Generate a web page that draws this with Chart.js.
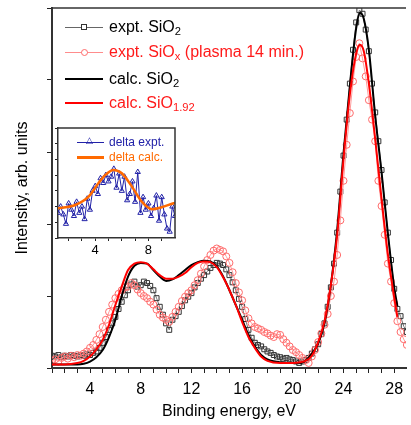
<!DOCTYPE html>
<html>
<head>
<meta charset="utf-8">
<script src="https://cdn.jsdelivr.net/npm/chart.js@4/dist/chart.umd.min.js"></script>
<style>
  html, body { margin: 0; padding: 0; background: #fff; }
  #wrap { position: relative; width: 411px; height: 425px; overflow: hidden; }
  #mainChart { position: absolute; left: 0; top: 0; }
  #insetChart { position: absolute; left: 50px; top: 118px; }
  .row { position: absolute; display: flex; align-items: center; height: 20px;
         font-family: 'Liberation Sans', Arial, sans-serif; white-space: nowrap; }
  .main { font-size: 16px; }
  .small { font-size: 12px; }
  .sample { position: relative; display: inline-block; height: 0; }
  .mark { position: absolute; box-sizing: border-box; background: #fff; }
  sub { font-size: 70%; vertical-align: -0.3em; line-height: 0; }
</style>
</head>
<body>
<div id="wrap">
  <canvas id="mainChart" width="411" height="425"></canvas>
  <canvas id="insetChart" width="130" height="142"></canvas>

  <div class="row main" style="left:65px; top:17px; color:#000;">
    <span class="sample" style="width:38px; border-top:1px solid #666;">
      <span class="mark" style="left:16px; top:-3.5px; width:6px; height:6px; border:1px solid #333;"></span>
    </span>
    <span style="margin-left:6px;">expt. SiO<sub>2</sub></span>
  </div>
  <div class="row main" style="left:65px; top:42px; color:#ff1a1a;">
    <span class="sample" style="width:38px; border-top:1px solid #ff8c8c;">
      <span class="mark" style="left:16px; top:-3.5px; width:7px; height:7px; border:1px solid #ff6b6b; border-radius:50%;"></span>
    </span>
    <span style="margin-left:6px;">expt. SiO<sub>x</sub> (plasma 14 min.)</span>
  </div>
  <div class="row main" style="left:65px; top:69px; color:#000;">
    <span class="sample" style="width:38px; border-top:2px solid #000;"></span>
    <span style="margin-left:6px;">calc. SiO<sub>2</sub></span>
  </div>
  <div class="row main" style="left:65px; top:93px; color:#ff1a1a;">
    <span class="sample" style="width:38px; border-top:2px solid #ff0000;"></span>
    <span style="margin-left:6px;">calc. SiO<sub>1.92</sub></span>
  </div>

  <div class="row small" style="left:77px; top:132px; color:#2222a8;">
    <span class="sample" style="width:27px; border-top:1px solid #2222a8;">
      <span style="position:absolute; left:9px; top:-7px; font-size:9px; line-height:9px; color:#2222a8;">&#9651;</span>
    </span>
    <span style="margin-left:5px;">delta expt.</span>
  </div>
  <div class="row small" style="left:77px; top:147px; color:#ff6a00;">
    <span class="sample" style="width:27px; border-top:3px solid #ff6a00;"></span>
    <span style="margin-left:5px;">delta calc.</span>
  </div>
</div>

<script>
// measured spectra, 0.25 eV step
const energyExp = [
  1, 1.25, 1.5, 1.75, 2, 2.25, 2.5, 2.75,
  3, 3.25, 3.5, 3.75, 4, 4.25, 4.5, 4.75,
  5, 5.25, 5.5, 5.75, 6, 6.25, 6.5, 6.75,
  7, 7.25, 7.5, 7.75, 8, 8.25, 8.5, 8.75,
  9, 9.25, 9.5, 9.75, 10, 10.25, 10.5, 10.75,
  11, 11.25, 11.5, 11.75, 12, 12.25, 12.5, 12.75,
  13, 13.25, 13.5, 13.75, 14, 14.25, 14.5, 14.75,
  15, 15.25, 15.5, 15.75, 16, 16.25, 16.5, 16.75,
  17, 17.25, 17.5, 17.75, 18, 18.25, 18.5, 18.75,
  19, 19.25, 19.5, 19.75, 20, 20.25, 20.5, 20.75,
  21, 21.25, 21.5, 21.75, 22, 22.25, 22.5, 22.75,
  23, 23.25, 23.5, 23.75, 24, 24.25, 24.5, 24.75,
  25, 25.25, 25.5, 25.75, 26, 26.25, 26.5, 26.75,
  27, 27.25, 27.5, 27.75, 28, 28.25, 28.5, 28.75,
  29
];
const exptSiO2 = [
  0.17, 0.16, 0.18, 0.15, 0.17, 0.16, 0.18, 0.17,
  0.16, 0.18, 0.17, 0.19, 0.18, 0.21, 0.23, 0.28,
  0.35, 0.43, 0.53, 0.62, 0.71, 0.82, 0.92, 1.01,
  1.08, 1.16, 1.20, 1.13, 1.15, 1.20, 1.18, 1.14,
  1.08, 0.97, 0.85, 0.74, 0.62, 0.53, 0.67, 0.72,
  0.78, 0.86, 0.94, 0.99, 1.04, 1.12, 1.18, 1.24,
  1.29, 1.34, 1.39, 1.43, 1.46, 1.45, 1.43, 1.37,
  1.29, 1.19, 1.08, 0.96, 0.85, 0.68, 0.53, 0.42,
  0.35, 0.32, 0.30, 0.26, 0.23, 0.21, 0.18, 0.16,
  0.15, 0.13, 0.14, 0.12, 0.11, 0.09, 0.07, 0.09,
  0.11, 0.14, 0.20, 0.26, 0.33, 0.47, 0.62, 0.85,
  1.12, 1.45, 1.88, 2.45, 2.95, 3.45, 3.95, 4.42,
  4.80, 4.97, 4.92, 4.70, 4.40, 3.95, 3.55, 3.15,
  2.75, 2.30, 1.88, 1.50, 1.10, 0.82, 0.72, 0.58,
  0.50
];
const exptSiOx = [
  0.10, 0.12, 0.09, 0.14, 0.16, 0.13, 0.17, 0.15,
  0.18, 0.17, 0.20, 0.23, 0.28, 0.32, 0.39, 0.47,
  0.57, 0.67, 0.78, 0.88, 0.97, 1.03, 1.08, 1.12,
  1.13, 1.18, 1.15, 1.09, 1.04, 1.00, 0.97, 0.92,
  0.88, 0.81, 0.74, 0.70, 0.67, 0.64, 0.71, 0.78,
  0.85, 0.93, 0.99, 1.04, 1.08, 1.15, 1.22, 1.31,
  1.41, 1.50, 1.57, 1.63, 1.66, 1.64, 1.62, 1.55,
  1.46, 1.33, 1.18, 1.05, 0.94, 0.80, 0.69, 0.62,
  0.57, 0.55, 0.53, 0.50, 0.48, 0.45, 0.43, 0.47,
  0.46, 0.40, 0.35, 0.30, 0.25, 0.22, 0.18, 0.14,
  0.11, 0.07, 0.16, 0.25, 0.36, 0.48, 0.60, 0.75,
  1.00, 1.20, 1.57, 2.05, 2.60, 3.10, 3.54, 3.98,
  4.32, 4.51, 4.30, 4.05, 3.72, 3.45, 3.15, 2.60,
  2.25, 1.85, 1.45, 1.20, 0.90, 0.65, 0.50, 0.40,
  0.32
];

// calculated curves
const energyCalc = [
  1, 2, 3, 3.5, 4, 4.5, 5, 5.5, 6, 6.5, 7, 7.5, 8, 8.5, 9, 9.5, 10, 10.5,
  11, 11.5, 12, 12.5, 13, 13.5, 14, 14.5, 15, 15.5, 16, 16.5, 17, 17.5, 18,
  19, 20, 20.6, 21, 21.5, 22, 22.5, 23, 23.5, 24, 24.5, 25, 25.3, 25.6, 26,
  26.5, 27, 27.5, 28, 28.25
];
const calcSiO2 = [
  0.05, 0.05, 0.05, 0.06, 0.09, 0.15, 0.25, 0.43, 0.67, 1.00, 1.27, 1.42, 1.46, 1.45, 1.36, 1.27, 1.21, 1.23,
  1.29, 1.36, 1.43, 1.47, 1.49, 1.48, 1.41, 1.27, 1.08, 0.875, 0.67, 0.46, 0.30, 0.18, 0.12,
  0.08, 0.07, 0.07, 0.10, 0.20, 0.34, 0.62, 1.15, 1.92, 2.98, 3.92, 4.72, 4.93, 4.85, 4.42,
  3.50, 2.72, 1.87, 1.12, 0.86
];
const calcSiO192 = [
  0.05, 0.05, 0.07, 0.10, 0.16, 0.26, 0.39, 0.60, 0.875, 1.13, 1.36, 1.45, 1.47, 1.45, 1.37, 1.29, 1.24, 1.24,
  1.27, 1.32, 1.40, 1.46, 1.48, 1.47, 1.40, 1.26, 1.08, 0.875, 0.64, 0.43, 0.28, 0.16, 0.10,
  0.07, 0.07, 0.08, 0.10, 0.17, 0.36, 0.65, 1.15, 1.85, 2.90, 3.80, 4.37, 4.49, 4.40, 3.95,
  3.18, 2.35, 1.58, 0.98, 0.71
];

// inset: difference spectra
const energyDelta = [
  1.2, 1.4, 1.6, 1.8, 2.0, 2.2, 2.4, 2.6, 2.8, 3.0, 3.2, 3.4, 3.6, 3.8, 4.0,
  4.2, 4.4, 4.6, 4.8, 5.0, 5.2, 5.4, 5.6, 5.8, 6.0, 6.2, 6.4, 6.6, 6.8, 7.0,
  7.2, 7.4, 7.6, 7.8, 8.0, 8.2, 8.4, 8.6, 8.8, 9.0, 9.2, 9.4, 9.6, 9.8, 10.0
];
const deltaExpt = [
  1.6, 2.0, 1.5, 0.9, 2.2, 1.8, 1.4, 2.3, 1.6, 2.0, 1.2, 2.5, 1.8, 3.0, 3.3,
  2.8, 3.8, 3.5, 4.0, 3.6, 3.9, 4.4, 3.2, 4.1, 3.0, 3.9, 2.4, 2.8, 3.6, 2.3,
  4.2, 1.6, 2.6, 1.8, 2.2, 1.4, 1.9, 2.7, 1.1, 2.6, 1.5, 0.6, 0.4, 2.0, 1.4
];
const energyDeltaCalc = [1.2, 2.5, 3.5, 4.25, 4.75, 5.37, 6.0, 6.76, 7.5, 8.27, 9.0, 9.9, 10];
const deltaCalc = [1.89, 2.1, 2.63, 3.5, 4.0, 4.33, 4.12, 3.27, 2.31, 1.83, 1.96, 2.21, 2.23];

const FONT = "'Liberation Sans', Arial, sans-serif";

function pts(xs, ys) {
  return xs.map((x, i) => ({ x: x, y: ys[i] }));
}

function range(a, b) {
  const out = [];
  for (let v = a; v <= b; v++) out.push({ value: v });
  return out;
}

const boxPlugin = {
  id: 'box',
  beforeDraw(chart, args, opts) {
    if (!opts.fill) return;
    const a = chart.chartArea;
    chart.ctx.save();
    chart.ctx.fillStyle = '#fff';
    chart.ctx.fillRect(a.left, a.top, a.right - a.left, a.bottom - a.top);
    chart.ctx.restore();
  },
  afterDraw(chart, args, opts) {
    const a = chart.chartArea;
    const ctx = chart.ctx;
    ctx.save();
    ctx.strokeStyle = '#333';
    ctx.lineWidth = opts.width || 1.5;
    ctx.beginPath();
    ctx.moveTo(a.left, a.top);
    ctx.lineTo(a.right, a.top);
    if (opts.right) ctx.lineTo(a.right, a.bottom);
    ctx.stroke();
    ctx.restore();
  }
};

Chart.defaults.font.family = FONT;
Chart.defaults.color = '#000';

new Chart(document.getElementById('mainChart'), {
  type: 'line',
  data: {
    datasets: [
      {
        label: 'calc. SiO1.92',
        data: pts(energyCalc, calcSiO192),
        borderColor: '#ff0000',
        borderWidth: 2,
        pointRadius: 0,
        cubicInterpolationMode: 'monotone',
        order: 0,
      },
      {
        label: 'calc. SiO2',
        data: pts(energyCalc, calcSiO2),
        borderColor: '#000',
        borderWidth: 2,
        pointRadius: 0,
        cubicInterpolationMode: 'monotone',
        order: 1,
      },
      {
        label: 'expt. SiOx (plasma 14 min.)',
        data: pts(energyExp, exptSiOx),
        borderColor: '#ff9a9a',
        borderWidth: 1,
        pointStyle: 'circle',
        pointRadius: 3.5,
        pointBorderColor: '#ff6b6b',
        pointBackgroundColor: 'rgba(255,255,255,0)',
        pointBorderWidth: 1,
        order: 2,
      },
      {
        label: 'expt. SiO2',
        data: pts(energyExp, exptSiO2),
        borderColor: '#777',
        borderWidth: 1,
        pointStyle: 'rect',
        pointRadius: 3.5,
        pointBorderColor: '#333',
        pointBackgroundColor: 'rgba(255,255,255,0)',
        pointBorderWidth: 1,
        order: 3,
      },
    ],
  },
  options: {
    responsive: false,
    animation: false,
    devicePixelRatio: 1,
    layout: { padding: { top: 8, right: 0, left: 0, bottom: 0 } },
    plugins: { legend: { display: false }, tooltip: { enabled: false }, box: { width: 1.5 } },
    scales: {
      x: {
        type: 'linear',
        min: 1,
        max: 28.93,
        afterBuildTicks: (s) => { s.ticks = range(1, 28); },
        afterFit: (s) => { s.height = 57; },
        ticks: {
          autoSkip: false,
          maxRotation: 0,
          padding: 7,
          font: { size: 16 },
          color: '#000',
          callback: (v) => (v % 4 === 0 ? v : ''),
        },
        grid: { drawOnChartArea: false, tickLength: 5, color: '#222', lineWidth: 1 },
        border: { color: '#333', width: 2 },
        title: { display: true, text: 'Binding energy, eV', font: { size: 16 }, color: '#000', padding: { top: 0, bottom: 4 } },
      },
      y: {
        min: 0,
        max: 5,
        afterBuildTicks: (s) => { s.ticks = range(0, 5); },
        afterFit: (s) => { s.width = 52; },
        ticks: { display: false },
        grid: { drawOnChartArea: false, tickLength: 5, color: '#222', lineWidth: 1 },
        border: { color: '#333', width: 2 },
        title: { display: true, text: 'Intensity, arb. units', font: { size: 16 }, color: '#000', padding: { top: 13, bottom: 0 } },
      },
    },
  },
  plugins: [boxPlugin],
});

new Chart(document.getElementById('insetChart'), {
  type: 'line',
  data: {
    datasets: [
      {
        label: 'delta calc.',
        data: pts(energyDeltaCalc, deltaCalc),
        borderColor: '#ff6a00',
        borderWidth: 2.5,
        pointRadius: 0,
        cubicInterpolationMode: 'monotone',
        order: 0,
      },
      {
        label: 'delta expt.',
        data: pts(energyDelta, deltaExpt),
        borderColor: '#2222a8',
        borderWidth: 1,
        pointStyle: 'triangle',
        pointRadius: 3,
        pointBorderColor: '#2222a8',
        pointBackgroundColor: 'rgba(255,255,255,0)',
        pointBorderWidth: 1,
        order: 1,
      },
    ],
  },
  options: {
    responsive: false,
    animation: false,
    devicePixelRatio: 1,
    layout: { padding: { top: 10, right: 5, left: 0, bottom: 0 } },
    plugins: { legend: { display: false }, tooltip: { enabled: false }, box: { fill: true, right: true, width: 1.5 } },
    scales: {
      x: {
        type: 'linear',
        min: 1.2,
        max: 10,
        afterBuildTicks: (s) => { s.ticks = range(2, 9); },
        afterFit: (s) => { s.height = 22; },
        ticks: {
          autoSkip: false,
          maxRotation: 0,
          padding: 2,
          font: { size: 13 },
          color: '#000',
          callback: (v) => (v % 4 === 0 ? v : ''),
        },
        grid: { drawOnChartArea: false, tickLength: 3, color: '#222', lineWidth: 1 },
        border: { color: '#333', width: 1.5 },
      },
      y: {
        min: 0,
        max: 7,
        afterBuildTicks: (s) => { s.ticks = range(0, 7); },
        afterFit: (s) => { s.width = 8; },
        ticks: { display: false },
        grid: { drawOnChartArea: false, tickLength: 3, color: '#222', lineWidth: 1 },
        border: { color: '#333', width: 1.5 },
      },
    },
  },
  plugins: [boxPlugin],
});
</script>
</body>
</html>
